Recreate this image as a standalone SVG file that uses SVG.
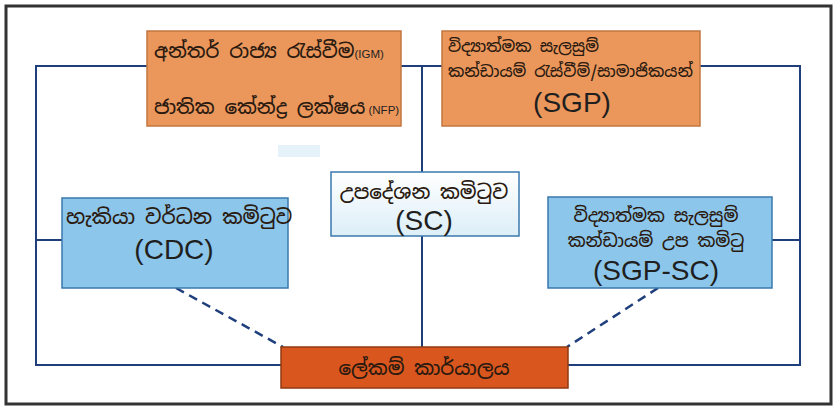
<svg xmlns="http://www.w3.org/2000/svg" width="837" height="411" viewBox="0 0 837 411">
<defs>
<linearGradient id="scg" x1="0" y1="0" x2="0" y2="1">
<stop offset="0" stop-color="#ffffff"/><stop offset="1" stop-color="#dceef8"/>
</linearGradient>
</defs>
<style>
.si{font-family:"Noto Sans Sinhala","Iskoola Pota","Noto Sans",sans-serif;fill:#2a1a10;font-weight:500}
.la{font-family:"Liberation Sans",Arial,sans-serif;fill:#1f1f1f;font-weight:normal}
.ln{stroke:#1e3e7c;stroke-width:2;fill:none}
.dash{stroke:#1e3e7c;stroke-width:2.5;fill:none;stroke-dasharray:9 6}
.or{fill:#eb975c;stroke:#c27740;stroke-width:1.5}
.bl{fill:#8cc6ea;stroke:#3a78ad;stroke-width:1.5}
</style>
<rect x="0" y="0" width="837" height="411" fill="#ffffff"/>
<rect x="6" y="6" width="825" height="398" fill="#ffffff" stroke="#333333" stroke-width="3"/>
<rect x="278" y="145" width="42" height="12" fill="#e6f2fa"/>
<g id="connectors">
<path class="ln" d="M36 66 H800 V365 H36 Z"/>
<path class="ln" d="M422 66 V347"/>
<path class="ln" d="M36 240 H62 M772 240 H800"/>
<path class="dash" d="M176 288 L283 347"/>
<path class="dash" d="M658 288 L567 347"/>
</g>
<g id="igm">
<rect class="or" x="147" y="31" width="254" height="95"/>
<text class="si" x="154" y="58" font-size="19.5">අන්තර් රාජ්‍ය රැස්වීම<tspan class="la" font-size="11.5">(IGM)</tspan></text>
<text class="si" x="154" y="114" font-size="19.5">ජාතික කේන්ද්‍ර ලක්ෂය<tspan class="la" font-size="11.5"> (NFP)</tspan></text>
</g>
<g id="sgp">
<rect class="or" x="442" y="31" width="258" height="95"/>
<text class="si" x="448" y="52" font-size="16">විද්‍යාත්මක සැලසුම්</text>
<text class="si" x="448" y="77" font-size="16">කන්ඩායම් රැස්වීම්/සාමාජිකයන්</text>
<text class="la" x="572" y="112" font-size="28" text-anchor="middle">(SGP)</text>
</g>
<g id="sc">
<rect x="331" y="172" width="188" height="64" fill="url(#scg)" stroke="#3a78ad" stroke-width="1.5"/>
<text class="si" x="424" y="199" font-size="19.5" text-anchor="middle">උපදේශන කමිටුව</text>
<text class="la" x="424" y="230" font-size="28" text-anchor="middle">(SC)</text>
</g>
<g id="cdc">
<rect class="bl" x="62" y="198" width="226" height="90"/>
<text class="si" x="66" y="224" font-size="20">හැකියා වර්ධන කමිටුව</text>
<text class="la" x="174" y="259" font-size="28" text-anchor="middle">(CDC)</text>
</g>
<g id="sgpsc">
<rect class="bl" x="548" y="197" width="224" height="91"/>
<text class="si" x="656" y="222" font-size="17.5" text-anchor="middle">විද්‍යාත්මක සැලසුම්</text>
<text class="si" x="656" y="247" font-size="17.5" text-anchor="middle">කන්ඩායම් උප කමිටු</text>
<text class="la" x="656" y="280" font-size="28" text-anchor="middle">(SGP-SC)</text>
</g>
<g id="secretariat">
<rect x="281" y="347" width="287" height="41" fill="#d9561e" stroke="#8e3b12" stroke-width="1.5"/>
<text class="si" x="424" y="375" font-size="19.5" text-anchor="middle">ලේකම් කාර්යාලය</text>
</g>
</svg>
